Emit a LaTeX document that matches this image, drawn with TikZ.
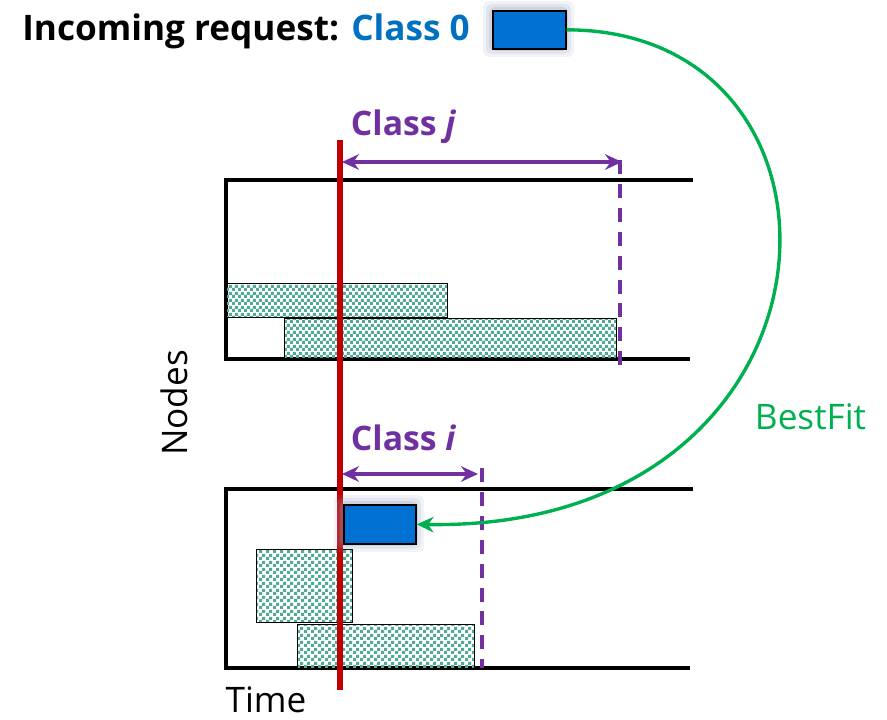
\documentclass[tikz,border=0pt]{standalone}
\usepackage{fontspec}
\setmainfont{Open Sans}
\usetikzlibrary{arrows.meta,patterns}
\definecolor{reqblue}{RGB}{0,112,210}
\definecolor{titleblue}{RGB}{0,112,192}
\definecolor{fitgreen}{RGB}{0,176,80}
\definecolor{classpurple}{RGB}{112,48,160}
\definecolor{nowred}{RGB}{192,0,0}
\definecolor{jobteal}{RGB}{80,170,150}
\definecolor{glow}{RGB}{150,160,190}
% checkerboard fill used for running jobs
\pgfdeclarepatternformonly{checker}{\pgfpointorigin}{\pgfpoint{4.6pt}{4.6pt}}{\pgfpoint{4.6pt}{4.6pt}}{%
  \pgfpathrectangle{\pgfpointorigin}{\pgfpoint{2.3pt}{2.3pt}}%
  \pgfpathrectangle{\pgfpoint{2.3pt}{2.3pt}}{\pgfpoint{2.3pt}{2.3pt}}%
  \pgfusepath{fill}}
\tikzset{
  axisline/.style={line width=2.2pt, black},
  jobbox/.style={draw=black, line width=0.9pt, pattern=checker, pattern color=jobteal},
  reqbox/.style={draw=black, line width=1.2pt, fill=reqblue},
  limitline/.style={classpurple, line width=2.2pt, dash pattern=on 10pt off 7pt},
  spanarrow/.style={classpurple, line width=2.4pt, {Stealth[length=12pt,width=11pt]}-{Stealth[length=12pt,width=11pt]}},
  classlabel/.style={classpurple, font=\bfseries\fontsize{24}{28}\selectfont, anchor=west},
  plainlabel/.style={font=\fontsize{25}{30}\selectfont},
}
\newcommand{\glowbox}[4]{% x1,y1,x2,y2 : soft halo behind a request box
  \foreach \g/\o in {9/0.12,6/0.18,3/0.25}{
    \fill[glow, opacity=\o, rounded corners=4pt] (#1-\g,#2-\g) rectangle (#3+\g,#4+\g);}
}
\begin{document}
\begin{tikzpicture}[x=0.025cm, y=-0.025cm]
\useasboundingbox (0,0) rectangle (887,720);

% title
\node[anchor=base west, inner sep=0, font=\bfseries\fontsize{25}{30}\selectfont] (title) at (22,41)
  {Incoming request: \textcolor{titleblue}{Class 0}};
\glowbox{492}{10}{565}{48}
\node[reqbox, minimum width=73*0.025cm, minimum height=38*0.025cm, inner sep=0, anchor=north west] (req) at (492,10) {};

% top node group (class j)
\draw[axisline] (693,180) -- (226,180) -- (226,359) -- (690,359);
\node[jobbox, anchor=north west, minimum width=221*0.025cm, minimum height=34*0.025cm, inner sep=0] (jobA) at (226,283) {};
\node[jobbox, anchor=north west, minimum width=332*0.025cm, minimum height=41*0.025cm, inner sep=0] (jobB) at (284,318) {};
\coordinate (jtop) at (620,160);
\coordinate (jbot) at (620,370);
\draw[limitline] (jtop) -- (jbot);

% bottom node group (class i)
\draw[axisline] (693,489) -- (226,489) -- (226,668) -- (690,668);
\node[jobbox, anchor=north west, minimum width=96*0.025cm, minimum height=73*0.025cm, inner sep=0] (jobC) at (256,549) {};
\node[jobbox, anchor=north west, minimum width=177*0.025cm, minimum height=44*0.025cm, inner sep=0] (jobD) at (297,624) {};
\coordinate (itop) at (482,468);
\coordinate (ibot) at (482,668);
\draw[limitline] (itop) -- (ibot);

% current time
\coordinate (nowtop) at (340,140);
\coordinate (nowbot) at (340,690);
\draw[nowred, line width=3.6pt] (nowtop) -- (nowbot);

% placed request
\glowbox{343}{504}{415}{543}
\node[reqbox, anchor=north west, minimum width=72*0.025cm, minimum height=39*0.025cm, inner sep=0] (placed) at (343,504) {};

% class spans
\coordinate (jl) at (342,162);
\coordinate (jr) at (622,162);
\draw[spanarrow] (jl) -- (jr);
\node[classlabel] (cj) at (346,127) {Class \textit{j}};
\coordinate (il) at (342,474);
\coordinate (ir) at (478,474);
\draw[spanarrow] (il) -- (ir);
\node[classlabel] (ci) at (346,438) {Class \textit{i}};

% placement arrow
\draw[fitgreen, line width=2.4pt, -{Stealth[length=12pt,width=11pt]}]
  (req.east) .. controls (880,30) and (860,532) .. (placed.east);
\node[fitgreen, plainlabel, anchor=west] (bf) at (750,417) {BestFit};

% axis labels
\node[plainlabel, rotate=90] (nodes) at (174,403) {Nodes};
\node[plainlabel, inner sep=1pt] (time) at (266,700) {Time};
\end{tikzpicture}
\end{document}
